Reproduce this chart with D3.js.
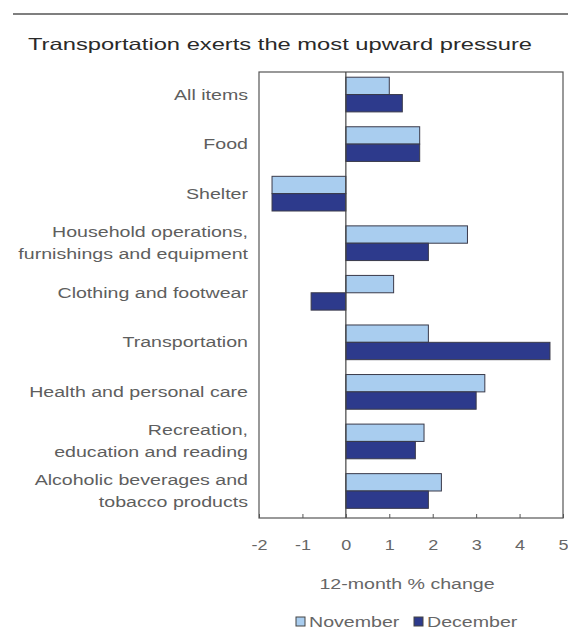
<!DOCTYPE html>
<html>
<head>
<meta charset="utf-8">
<script src="https://cdn.jsdelivr.net/npm/d3@7/dist/d3.min.js"></script>
<style>
  html, body { margin: 0; padding: 0; background: #ffffff; }
  svg { display: block; }
  text { font-family: "Liberation Sans", Arial, sans-serif; }
</style>
</head>
<body>
<svg id="chart" width="568" height="639"></svg>
<script>
const categories = [
  ["All items"],
  ["Food"],
  ["Shelter"],
  ["Household operations,", "furnishings and equipment"],
  ["Clothing and footwear"],
  ["Transportation"],
  ["Health and personal care"],
  ["Recreation,", "education and reading"],
  ["Alcoholic beverages and", "tobacco products"]
];
const november = [1.0, 1.7, -1.7, 2.8, 1.1, 1.9, 3.2, 1.8, 2.2];
const december = [1.3, 1.7, -1.7, 1.9, -0.8, 4.7, 3.0, 1.6, 1.9];
const seriesNames = ["November", "December"];
const tickValues = [-2, -1, 0, 1, 2, 3, 4, 5];
const titleText = "Transportation exerts the most upward pressure";
const axisTitle = "12-month % change";

// layout / style (not data)
const colors = { November: "#a9cdef", December: "#2d3a8c" };
const textColor = "#5e5e5e";
const stretch = 1.4;

const svg = d3.select("#chart");
const plot = { left: 259, right: 563, top: 72, bottom: 518 };

const x = d3.scaleLinear().domain([-2, 5]).range([plot.left, plot.right]);
const keys = categories.map((c, i) => i);
const y = d3.scaleBand().domain(keys).range([plot.top, plot.bottom])
  .paddingInner(0.3).paddingOuter(0.15).align(0.35);
const ySub = d3.scaleBand().domain(seriesNames).range([0, y.bandwidth()]);

function stretchedText(g, tx, ty, str, size, anchor, sx) {
  return g.append("text")
    .attr("transform", `translate(${tx},${ty}) scale(${sx},1)`)
    .attr("text-anchor", anchor).attr("font-size", size)
    .attr("fill", textColor).text(str);
}

// top rule
svg.append("line").attr("x1", 13).attr("x2", 568).attr("y1", 14).attr("y2", 14)
  .attr("stroke", "#555").attr("stroke-width", 1.5);

// title
svg.append("text").attr("x", 28).attr("y", 50).text(titleText)
  .attr("font-size", 16.5).attr("fill", "#2a2a2a").attr("textLength", 504)
  .attr("lengthAdjust", "spacingAndGlyphs");

// plot box
svg.append("rect").attr("x", plot.left).attr("y", plot.top)
  .attr("width", plot.right - plot.left).attr("height", plot.bottom - plot.top)
  .attr("fill", "none").attr("stroke", "#555").attr("stroke-width", 1.2);

// bars
const data = [];
keys.forEach(i => {
  data.push({ i, s: "November", v: november[i] });
  data.push({ i, s: "December", v: december[i] });
});
svg.append("g").selectAll("rect").data(data).join("rect")
  .attr("x", d => x(Math.min(0, d.v)))
  .attr("width", d => Math.abs(x(d.v) - x(0)))
  .attr("y", d => y(d.i) + ySub(d.s))
  .attr("height", ySub.bandwidth())
  .attr("fill", d => colors[d.s])
  .attr("stroke", "#3a3a4a").attr("stroke-width", 1);

// zero line
svg.append("line").attr("x1", x(0)).attr("x2", x(0))
  .attr("y1", plot.top).attr("y2", plot.bottom)
  .attr("stroke", "#444").attr("stroke-width", 1.2);

// x axis
const xAxis = d3.axisBottom(x).tickValues(tickValues).tickSize(-4).tickPadding(21)
  .tickFormat(d => d);
const gx = svg.append("g").attr("transform", `translate(0,${plot.bottom})`).call(xAxis);
gx.select(".domain").remove();
gx.selectAll(".tick line").attr("stroke", "#555");
gx.selectAll(".tick text").attr("font-size", 15).attr("fill", "#666")
  .attr("font-family", "Liberation Sans, Arial, sans-serif")
  .attr("transform", "scale(1.2,1)");

// category labels
const lab = svg.append("g");
categories.forEach((lines, i) => {
  const cy = y(i) + y.bandwidth() / 2;
  const lh = 22;
  lines.forEach((ln, j) => {
    stretchedText(lab, 248, cy + (j - (lines.length - 1) / 2) * lh + 5, ln, 14, "end", stretch);
  });
});

// axis title
stretchedText(svg, 407, 589, axisTitle, 14, "middle", stretch).attr("fill", "#666");

// legend
const legend = svg.append("g");
const lx = [296, 414];
seriesNames.forEach((s, i) => {
  legend.append("rect").attr("x", lx[i]).attr("y", 617).attr("width", 9).attr("height", 9)
    .attr("fill", colors[s]).attr("stroke", "#444").attr("stroke-width", 1);
  stretchedText(legend, lx[i] + 13, 627, s, 14, "start", stretch).attr("fill", "#666");
});
</script>
</body>
</html>
